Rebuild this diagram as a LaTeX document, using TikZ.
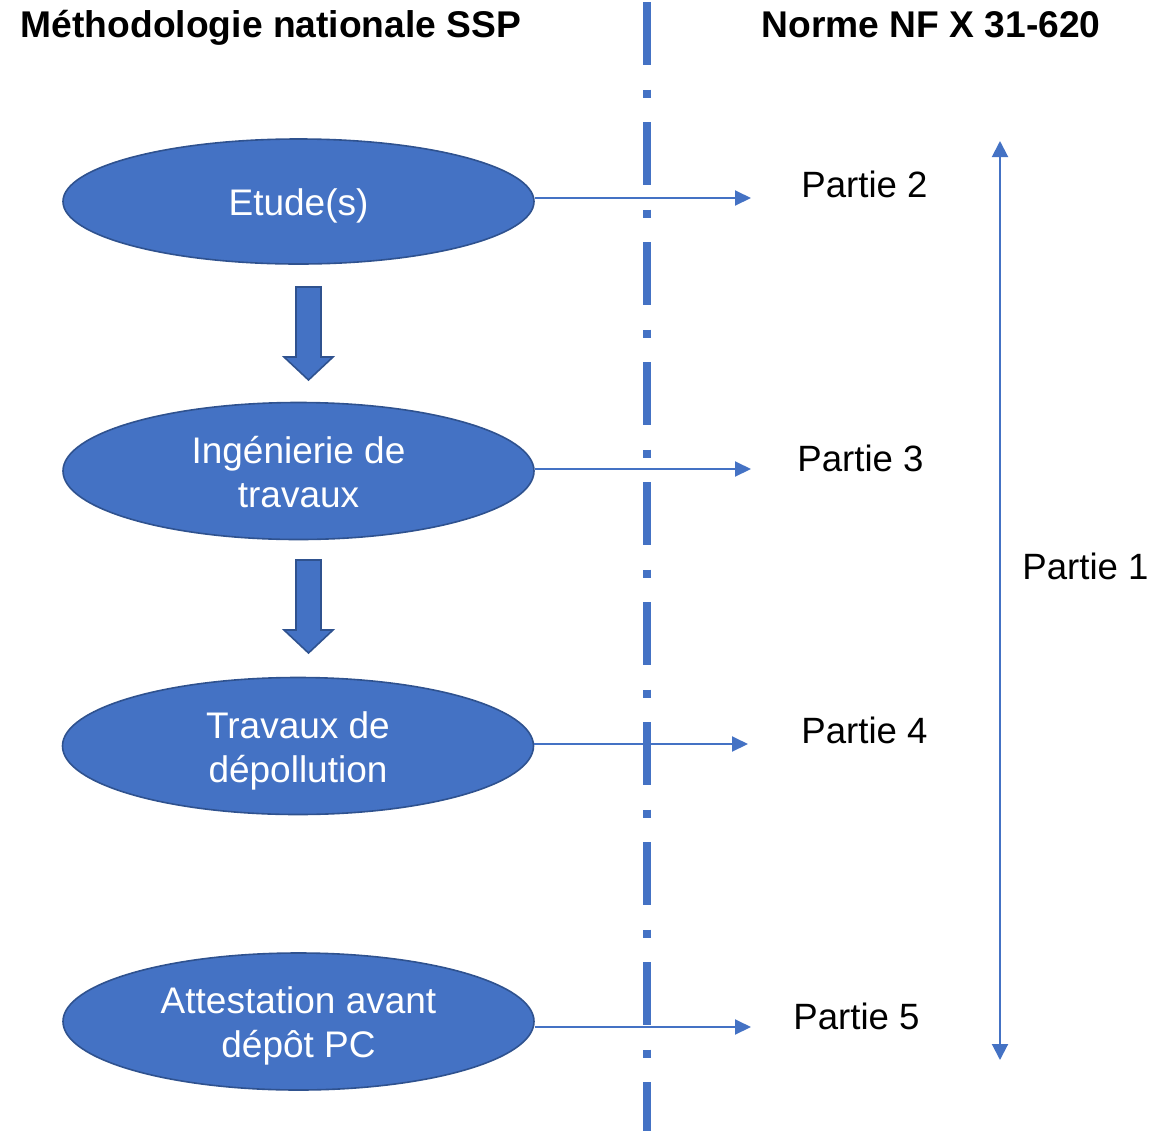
\documentclass[tikz,border=0pt]{standalone}
\usepackage{fontspec}
\setmainfont{Liberation Sans}
\usetikzlibrary{shapes.geometric,arrows.meta}
\definecolor{ssp}{HTML}{4472C4}
\definecolor{sspdark}{HTML}{2F528F}
\newcommand\phasetxt[1]{\raisebox{-2.6pt}[\height][\depth]{\begin{tabular}{@{}c@{}}#1\end{tabular}}}
\tikzset{
  phase/.style={ellipse,draw=sspdark,line width=0.8pt,fill=ssp,text=white,
    minimum width=235.5pt,minimum height=68.5pt,inner sep=0pt,
    font=\fontsize{18.5}{22}\selectfont},
  partie/.style={anchor=base west,inner sep=0pt,font=\fontsize{18.3}{22}\selectfont},
  titre/.style={anchor=base,inner sep=0pt,font=\fontsize{18.6}{22}\selectfont\bfseries},
  suite/.style={draw=sspdark,line width=0.8pt,fill=ssp},
  lien/.style={ssp,line width=1pt,-{Triangle[length=8pt,width=7.5pt]}},
  axe/.style={ssp,line width=4pt,dash pattern=on 31.5pt off 12.25pt on 4pt off 12.25pt},
}

\begin{document}
\begin{tikzpicture}[x=0.5pt,y=-0.5pt]
    \useasboundingbox (0,0) rectangle (1153,1131);
    % titres
    \node[titre] (ssp) at (271,37) {Méthodologie nationale SSP};
    \node[titre] (nf) at (931,37) {Norme NF X 31-620};
    % separation
    \coordinate (axehaut) at (647,2);
    \coordinate (axebas) at (647,1131);
    \draw[axe] (axehaut) -- (axebas);
    % phases
    \node[phase,minimum height=62.5pt] (etude) at (298.5,201.5) {\phasetxt{Etude(s)}};
    \node[phase] (inge) at (298.5,471) {\phasetxt{Ingénierie de\\travaux}};
    \node[phase] (travaux) at (298,746) {\phasetxt{Travaux de\\dépollution}};
    \node[phase] (attest) at (298.5,1021.5) {\phasetxt{Attestation avant\\dépôt PC}};
    \draw[suite] (296,287) -- (321,287) -- (321,357) -- (333,357) -- (308.5,380) -- (284,357) -- (296,357) -- cycle;
    \draw[suite] (296,560) -- (321,560) -- (321,630) -- (333,630) -- (308.5,653) -- (284,630) -- (296,630) -- cycle;
    % parties
    \node[partie] (p2) at (801,197) {Partie 2};
    \node[partie] (p3) at (797,471) {Partie 3};
    \node[partie] (p4) at (801,743) {Partie 4};
    \node[partie] (p5) at (793,1029) {Partie 5};
    \node[partie] (p1) at (1022,579) {Partie 1};
    \coordinate (f2) at (751,198);
    \coordinate (f3) at (751,469);
    \coordinate (f4) at (748,744);
    \coordinate (f5) at (751,1027);
    \path[lien]
    (etude.east |- f2) edge (f2)
    (inge.east |- f3) edge (f3)
    (travaux.east |- f4) edge (f4)
    (attest.east |- f5) edge (f5);
    \coordinate (haut) at (1000,141);
    \coordinate (bas) at (1000,1060);
    \draw[ssp,line width=1pt,{Triangle[length=8pt,width=8pt]}-{Triangle[length=8pt,width=8pt]}] (haut) -- (bas);
\end{tikzpicture}
\end{document}
